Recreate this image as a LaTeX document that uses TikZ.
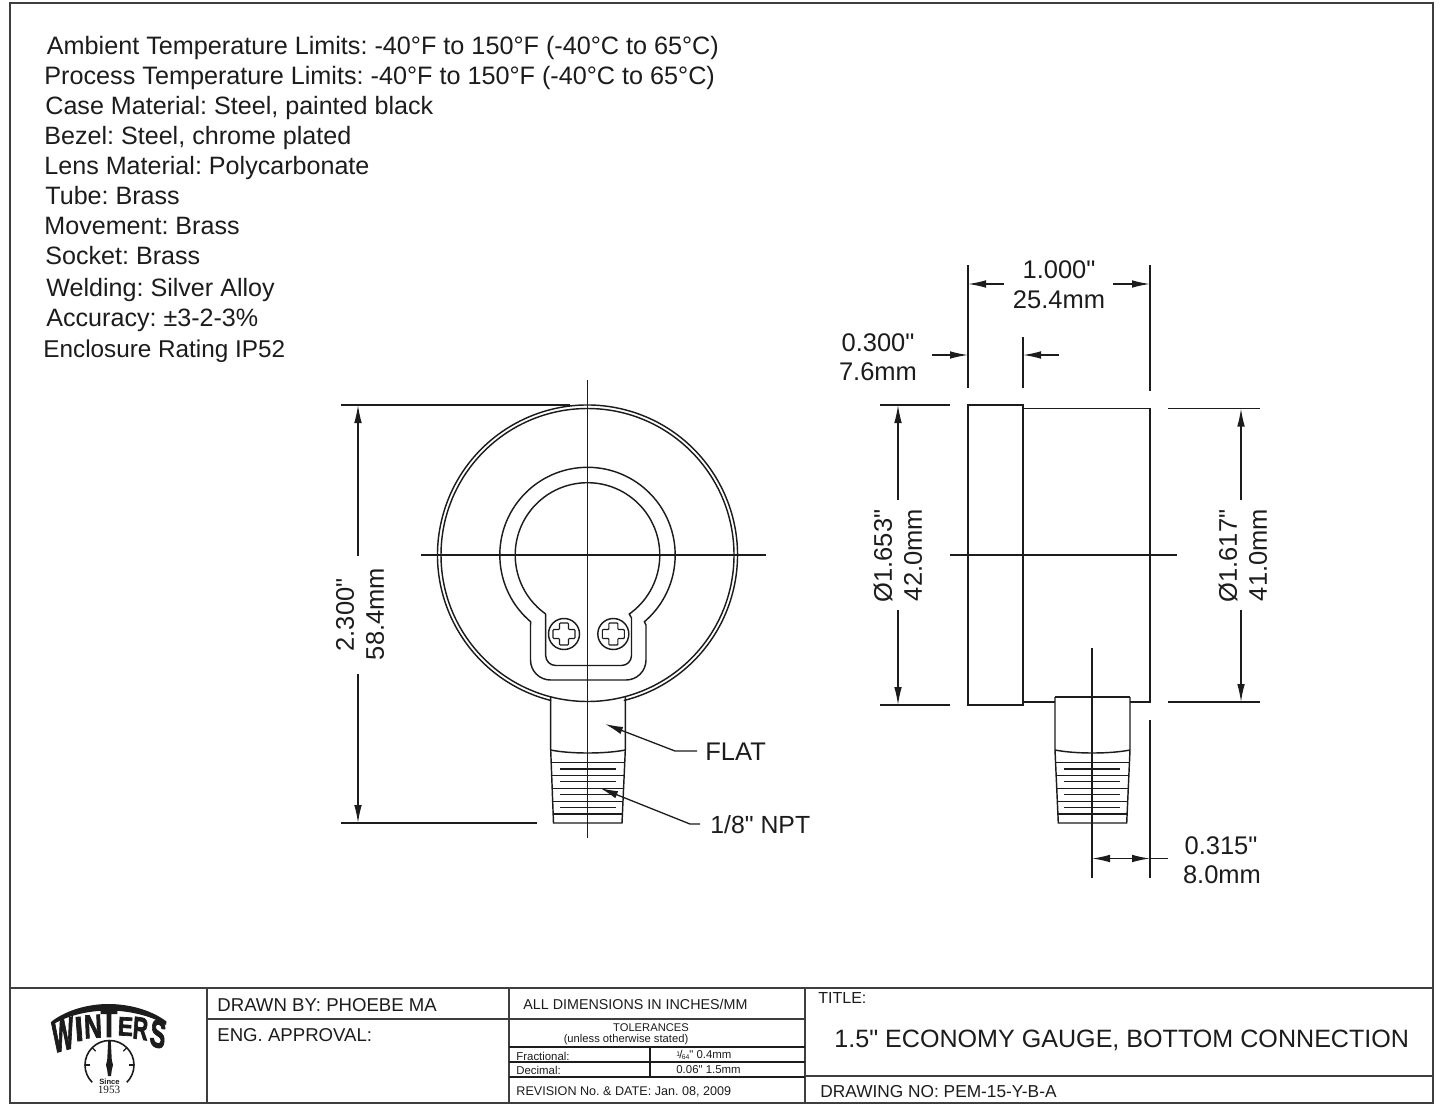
\documentclass[tikz,border=0pt]{standalone}
\usepackage{fontspec}
\setmainfont{Liberation Sans}[Ligatures=TeXOff]
\newfontfamily\serifbold{Liberation Serif}[BoldFont={Liberation Serif Bold}]
\newfontfamily\logofont{Liberation Sans Bold}[FakeBold=2.6]
\usetikzlibrary{arrows.meta}
\definecolor{ink}{HTML}{1C1C1C}
\newcommand{\fs}[1]{\fontsize{#1}{#1}\selectfont}
\tikzset{
  line/.style={draw=ink,line width=0.72pt},
  thin line/.style={draw=ink,line width=0.65pt},
  frame/.style={draw=ink!85,line width=0.95pt},
  dim/.style={draw=ink,line width=0.65pt,-{Latex[length=9pt,width=3.8pt]}},
  spec/.style={anchor=base west,inner sep=0pt,text=ink,font=\fs{12.55}},
  dimtext/.style={inner sep=0pt,text=ink,font=\fs{12.75}},
  tb/.style={inner sep=0pt,text=ink,anchor=west},
  letter/.style={inner sep=0pt,text=ink,font=\logofont\fs{15}},
}
\begin{document}
\frenchspacing
\begin{tikzpicture}[x=0.5pt,y=-0.5pt]
\useasboundingbox (0,0) rectangle (1444,1107);
\fill[white] (0,0) rectangle (1444,1107);
% frame
\draw[frame] (10,3) rectangle (1433,1103);
\draw[frame] (10,988) -- (1433,988);
\draw[frame] (207,988) -- (207,1103);
\draw[frame] (509,988) -- (509,1103);
\draw[frame] (805,988) -- (805,1103);
\draw[frame] (207,1019) -- (805,1019);
\draw[thin line] (509,1047) -- (805,1047);
\draw[thin line] (509,1062) -- (805,1062);
\draw[thin line] (509,1077) -- (805,1077);
\draw[thin line] (650,1047) -- (650,1077);
\draw[frame] (805,1076) -- (1433,1076);
% specs
\node[spec,font=\fs{12.6}] (s1) at (46.5,54.5) {Ambient Temperature Limits: -40°F to 150°F (-40°C to 65°C)};
\node[spec,font=\fs{12.6}] (s2) at (44,84.5) {Process Temperature Limits: -40°F to 150°F (-40°C to 65°C)};
\node[spec] (s3) at (45,114.5) {Case Material: Steel, painted black};
\node[spec] (s4) at (44,144.5) {Bezel: Steel, chrome plated};
\node[spec] (s5) at (44,174.5) {Lens Material: Polycarbonate};
\node[spec] (s6) at (45,204.5) {Tube: Brass};
\node[spec] (s7) at (44,234.5) {Movement: Brass};
\node[spec] (s8) at (45,264.5) {Socket: Brass};
\node[spec] (s9) at (46,296) {Welding: Silver Alloy};
\node[spec] (s10) at (46,326) {Accuracy: ±3-2-3\%};
\node[spec,font=\fs{12.15}] (s11) at (43,357) {Enclosure Rating IP52};
% front view
\draw[line] (587.5,555) circle[radius=146.5];
\draw[line] (587.5,555) ++(104:150) arc[start angle=104,end angle=436,radius=150];
\draw[line] (587.5,555) ++(130.4:87.7) arc[start angle=130.4,end angle=409.6,radius=87.7]
  -- (646,625) [rounded corners=10pt] -- (646,680) -- (530.5,680) [sharp corners] -- (530.5,625) -- cycle;
\draw[line] (587.5,555) ++(125.3:72.3) arc[start angle=125.3,end angle=414.7,radius=72.3]
  -- (631.5,618) [rounded corners=5pt] -- (631.5,665.5) -- (545.7,665.5) [sharp corners] -- (545.7,614);
\foreach \cx in {564,613.3}{
  \draw[line,fill=white] (\cx,634) circle[radius=15.5];
  \draw[thin line,line width=0.55pt,rounded corners=0.4pt] (\cx-4.5,634-11) -- (\cx+4.5,634-11) -- (\cx+4.5,634-4.5) -- (\cx+11,634-4.5) -- (\cx+11,634+4.5) -- (\cx+4.5,634+4.5) -- (\cx+4.5,634+11) -- (\cx-4.5,634+11) -- (\cx-4.5,634+4.5) -- (\cx-11,634+4.5) -- (\cx-11,634-4.5) -- (\cx-4.5,634-4.5) -- cycle;
}
% front stem
\draw[line] (550.7,697) -- (550.7,750) -- (553.5,823) -- (622,823) -- (625.3,750) -- (625.3,697);
\draw[line] (550.7,750) .. controls (570,754) and (605,754) .. (625.3,750);
\foreach \y/\a/\b in {762.7/551.2/624.8,775.5/551.7/624.2,788.5/552.2/623.7,801.3/552.7/623.2,814/553.2/622.6}
  \draw[thin line] (\a,\y) -- (\b,\y);
\foreach \y in {769,781.7,794.7,807.5}
  \draw[line] (560,\y) -- (616,\y);
% front centre lines
\draw[thin line] (587.5,380) -- (587.5,838);
\draw[thin line] (421,555) -- (766,555);
% 2.300 dim
\draw[thin line] (341,405) -- (570,405);
\draw[thin line] (341,823) -- (537,823);
\draw[dim] (358,556) -- (358,405);
\draw[dim] (358,674) -- (358,823);
\node[dimtext,rotate=90] (d1a) at (345,615) {2.300"};
\node[dimtext,rotate=90] (d1b) at (375,614) {58.4mm};
% leaders
\node[dimtext,anchor=west] (flat) at (705,752) {FLAT};
\node[dimtext,anchor=west,font=\fs{12.4}] (npt) at (710,825) {1/8" NPT};
\draw[dim] (697,751) -- (675,751) -- (605,724);
\draw[dim] (700,824) -- (690,824) -- (600,788);
% side view
\draw[line] (968,405) rectangle (1023,705);
\draw[line] (1023,408.5) -- (1150,408.5) -- (1150,702) -- (1130,702);
\draw[line] (1023,702) -- (1055,702);
\draw[line] (1055,697) -- (1130,697);
\draw[line] (1055,697) -- (1055,750) -- (1058.3,823) -- (1126.7,823) -- (1130,750) -- (1130,697);
\draw[line] (1055,750) .. controls (1075,754) and (1110,754) .. (1130,750);
\foreach \y/\a/\b in {762.7/1055.6/1129.4,775.5/1056.2/1128.8,788.5/1056.7/1128.3,801.3/1057.3/1127.7,814/1057.9/1127.1}
  \draw[thin line] (\a,\y) -- (\b,\y);
\foreach \y in {769,781.7,794.7,807.5}
  \draw[line] (1064.3,\y) -- (1120.3,\y);
\draw[thin line] (1092,648) -- (1092,878);
\draw[thin line] (950,555) -- (1177,555);
% 1.000 dim
\draw[thin line] (968,265) -- (968,388);
\draw[thin line] (1150,265) -- (1150,391);
\draw[dim] (1004,284) -- (968,284);
\draw[dim] (1113,284) -- (1150,284);
\node[dimtext] (d2a) at (1059,270) {1.000"};
\node[dimtext] (d2b) at (1059,300) {25.4mm};
% 0.300 dim
\draw[thin line] (1023,337) -- (1023,388);
\draw[dim] (932,355) -- (968,355);
\draw[dim] (1059,355) -- (1023,355);
\node[dimtext] (d3a) at (878,343) {0.300"};
\node[dimtext] (d3b) at (878,372) {7.6mm};
% 1.653 dim
\draw[thin line] (880,405) -- (950,405);
\draw[thin line] (880,705) -- (950,705);
\draw[dim] (898,500) -- (898,405);
\draw[dim] (898,610) -- (898,705);
\node[dimtext,rotate=90] (d4a) at (883,556) {Ø1.653"};
\node[dimtext,rotate=90] (d4b) at (913,555) {42.0mm};
% 1.617 dim
\draw[thin line] (1168,408.5) -- (1260,408.5);
\draw[thin line] (1168,702) -- (1260,702);
\draw[dim] (1241,500) -- (1241,408.5);
\draw[dim] (1241,610) -- (1241,702);
\node[dimtext,rotate=90] (d5a) at (1228,556) {Ø1.617"};
\node[dimtext,rotate=90] (d5b) at (1258,555) {41.0mm};
% 0.315 dim
\draw[thin line] (1150,720) -- (1150,878);
\draw[dim] (1121,858.5) -- (1092,858.5);
\draw[dim] (1121,858.5) -- (1150,858.5);
\draw[thin line] (1150,858.5) -- (1168,858.5);
\node[dimtext] (d6a) at (1221,846) {0.315"};
\node[dimtext] (d6b) at (1222,875) {8.0mm};
% title block text
\node[tb,font=\fs{9.3}] (t1) at (217,1005) {DRAWN BY: PHOEBE MA};
\node[tb,font=\fs{9.3}] (t2) at (217,1035) {ENG. APPROVAL:};
\node[tb,font=\fs{7.15}] (t3) at (523,1004) {ALL DIMENSIONS IN INCHES/MM};
\node[inner sep=0pt,text=ink,font=\fs{5.6}] (t4) at (651,1028) {TOLERANCES};
\node[inner sep=0pt,text=ink,font=\fs{5.6}] (t5) at (626,1040) {(unless otherwise stated)};
\node[tb,font=\fs{5.7}] (t6) at (516,1056) {Fractional:};
\node[tb,font=\fs{5.7}] (t7) at (516,1070) {Decimal:};
\node[tb,font=\fs{5.7}] (t8) at (676,1055) {\raisebox{1pt}{\fs{3.4}1}\kern-0.4pt/\kern-0.4pt\raisebox{-0.5pt}{\fs{3.4}64}" 0.4mm};
\node[tb,font=\fs{5.7}] (t9) at (676,1070) {0.06" 1.5mm};
\node[tb,font=\fs{6.3}] (t10) at (516,1092) {REVISION No. \& DATE: Jan. 08, 2009};
\node[tb,font=\fs{8}] (t11) at (818,998) {TITLE:};
\node[tb,font=\fs{12.55}] (t12) at (834,1040) {1.5" ECONOMY GAUGE, BOTTOM CONNECTION};
\node[tb,font=\fs{8.65}] (t13) at (820,1092) {DRAWING NO: PEM-15-Y-B-A};
% logo
\fill[ink] (51.5,1021.5) .. controls (68,1009) and (90,1004) .. (108.5,1004) .. controls (127,1004) and (150,1009) .. (166.5,1021.5)
  -- (166,1025) .. controls (150,1015) and (127,1010.5) .. (108.5,1010.5) .. controls (90,1010.5) and (68,1015) .. (52,1025) -- cycle;
\node[letter,xscale=0.76,yscale=1.5,rotate=8] (lw) at (63,1035) {W};
\node[letter,xscale=1,yscale=1.15,rotate=5] (li) at (79,1029) {I};
\node[letter,xscale=0.82,yscale=1.1,rotate=3] (ln) at (93,1026.5) {N};
\node[letter,xscale=0.9,yscale=1.35] (lt) at (109,1023) {T};
\node[letter,xscale=0.75,yscale=0.88,rotate=-3] (le) at (125.5,1026.5) {E};
\node[letter,xscale=0.7,yscale=1.05,rotate=-6] (lr) at (140.5,1028.5) {R};
\node[letter,xscale=0.78,yscale=1.3,rotate=-10] (ls) at (158,1034) {S};
\draw[draw=ink,line width=0.8pt] (109.5,1065) ++(135:24.5) arc[start angle=135,end angle=405,radius=24.5];
\foreach \a in {180,225,315,360}
  \draw[draw=ink,line width=0.6pt] (109.5,1065) ++(\a:24.5) -- ++(\a:-5);
\fill[ink] (108.2,1041) -- (110.8,1041) -- (111.8,1060) -- (113,1065) -- (111.8,1070) -- (111,1076) -- (108,1076) -- (107.2,1070) -- (106,1065) -- (107.2,1060) -- cycle;
\node[inner sep=0pt,text=ink,font=\fs{3.8}\bfseries] (since) at (109.5,1081.5) {Since};
\node[inner sep=0pt,text=ink,font=\serifbold\fs{5.6}] (yr) at (109,1089.5) {1953};
\end{tikzpicture}
\end{document}
